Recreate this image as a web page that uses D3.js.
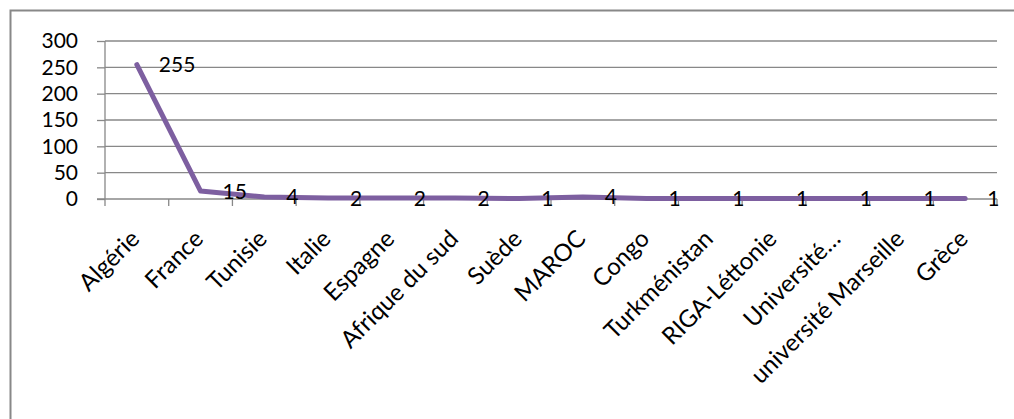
<!DOCTYPE html>
<html lang="fr">
<head>
<meta charset="utf-8">
<title>Pays</title>
<script src="https://d3js.org/d3.v7.min.js"></script>
<style>
  body { margin: 0; background: #fff; }
  text { font-family: Lato, "Open Sans", sans-serif; fill: #000; }
</style>
</head>
<body>
<script>
var categories = ["Algérie", "France", "Tunisie", "Italie", "Espagne", "Afrique du sud", "Suède",
  "MAROC", "Congo", "Turkménistan", "RIGA-Léttonie", "Université…", "université Marseille", "Grèce"];
var values = [255, 15, 4, 2, 2, 2, 1, 4, 1, 1, 1, 1, 1, 1];
var yTicks = [0, 50, 100, 150, 200, 250, 300];

var W = 1014, H = 419;
var plotLeft = 105, plotRight = 997, plotTop = 41, plotBottom = 199;
var grey = "#888888";

var svg = d3.select("body").append("svg")
  .attr("width", W).attr("height", H);

// chart frame (right and bottom sides fall outside the picture)
svg.append("rect")
  .attr("x", 10.5).attr("y", 10.5)
  .attr("width", W + 20).attr("height", H + 20)
  .attr("fill", "none").attr("stroke", grey).attr("stroke-width", 2);

var x = d3.scaleBand().domain(categories).range([plotLeft, plotRight]).padding(0);
var y = d3.scaleLinear().domain([0, 300]).range([plotBottom, plotTop]);
var cx = function(c) { return x(c) + x.bandwidth() / 2; };

// gridlines
svg.append("g").selectAll("line")
  .data(yTicks.filter(function(d) { return d > 0; }))
  .enter().append("line")
  .attr("x1", plotLeft).attr("x2", plotRight)
  .attr("y1", function(d) { return y(d); }).attr("y2", function(d) { return y(d); })
  .attr("stroke", grey).attr("stroke-width", 1.3);

// y axis
var yAxis = svg.append("g")
  .attr("transform", "translate(" + plotLeft + ",0)")
  .call(d3.axisLeft(y).tickValues(yTicks).tickSize(8).tickPadding(19));
yAxis.selectAll("line, path").attr("stroke", grey).attr("stroke-width", 1.3);
yAxis.select(".domain").attr("d", "M0," + (plotBottom + 7) + "V" + plotTop);
yAxis.selectAll("text").attr("font-size", 21).attr("font-family", "Lato").attr("fill", "#000");

// x axis line and ticks at category boundaries
svg.append("line")
  .attr("x1", plotLeft - 8).attr("x2", plotRight)
  .attr("y1", plotBottom).attr("y2", plotBottom)
  .attr("stroke", grey).attr("stroke-width", 1.3);
svg.append("g").selectAll("line")
  .data(categories.slice(1).concat(["__end"]))
  .enter().append("line")
  .attr("x1", function(d) { return d === "__end" ? plotRight : x(d); })
  .attr("x2", function(d) { return d === "__end" ? plotRight : x(d); })
  .attr("y1", plotBottom).attr("y2", plotBottom + 7)
  .attr("stroke", grey).attr("stroke-width", 1.3);

// category labels, rotated
svg.append("g").selectAll("text")
  .data(categories)
  .enter().append("text")
  .attr("transform", function(d) { return "translate(" + (cx(d) - 8) + ",228) rotate(-45)"; })
  .attr("text-anchor", "end")
  .attr("dy", "0.72em")
  .attr("font-size", 24)
  .text(function(d) { return d; });

// series line
var line = d3.line()
  .x(function(d, i) { return cx(categories[i]); })
  .y(function(d) { return y(d); });

svg.append("path")
  .datum(values)
  .attr("d", line)
  .attr("fill", "none")
  .attr("stroke", "#7d5fa0")
  .attr("stroke-width", 5)
  .attr("stroke-linejoin", "round")
  .attr("stroke-linecap", "round");

// data labels
svg.append("g").selectAll("text")
  .data(values)
  .enter().append("text")
  .attr("x", function(d, i) { return cx(categories[i]) + 22; })
  .attr("y", function(d) { return y(d); })
  .attr("dy", "0.36em")
  .attr("font-size", 21)
  .text(function(d) { return d; });
</script>
</body>
</html>
